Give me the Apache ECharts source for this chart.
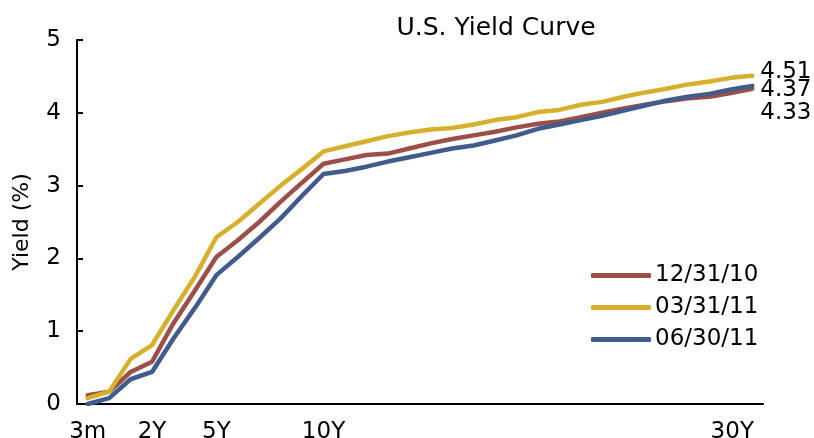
<!DOCTYPE html>
<html>
<head>
<meta charset="utf-8">
<script src="https://cdn.jsdelivr.net/npm/echarts@6/dist/echarts.min.js"></script>
<style>html,body{margin:0;padding:0;background:#fff}#c{width:814px;height:438px}</style>
</head>
<body>
<div id="c"></div>
<script>
var categories = ['3m','6m','1Y','2Y','3Y','4Y','5Y','6Y','7Y','8Y','9Y','10Y','11Y','12Y','13Y','14Y','15Y','16Y','17Y','18Y','19Y','20Y','21Y','22Y','23Y','24Y','25Y','26Y','27Y','28Y','29Y','30Y'];
var shownLabels = ['3m','2Y','5Y','10Y','30Y'];
var seriesNames = ['12/31/10','03/31/11','06/30/11'];
var yield_123110 = [0.12,0.17,0.44,0.58,1.11,1.56,2.02,2.25,2.50,2.78,3.04,3.30,3.36,3.42,3.44,3.51,3.58,3.64,3.69,3.74,3.80,3.85,3.88,3.94,4.00,4.06,4.11,4.16,4.20,4.22,4.27,4.33];
var yield_033111 = [0.08,0.17,0.62,0.81,1.29,1.75,2.29,2.50,2.75,3.00,3.23,3.47,3.54,3.61,3.68,3.73,3.77,3.79,3.84,3.90,3.94,4.01,4.04,4.11,4.15,4.22,4.28,4.33,4.39,4.43,4.48,4.51];
var yield_063011 = [0.00,0.08,0.34,0.44,0.90,1.32,1.77,2.02,2.28,2.55,2.86,3.16,3.20,3.26,3.33,3.39,3.45,3.51,3.55,3.62,3.69,3.78,3.84,3.90,3.96,4.03,4.10,4.17,4.22,4.26,4.32,4.37];
var colors = ['#9c4f49','#d6b02c','#405b8c'];
var endOffsets = [[0, 24], [0, -4], [0, 4]];

var FONT = 'DejaVu Sans';
var allData = [yield_123110, yield_033111, yield_063011];
var series = seriesNames.map(function (n, k) {
  var arr = allData[k];
  return {
    name: n, type: 'line', data: arr,
    symbol: 'none', smooth: false,
    lineStyle: { color: colors[k], width: 4.5, cap: 'round', join: 'round' },
    itemStyle: { color: colors[k] },
    endLabel: {
      show: true, distance: 8, offset: endOffsets[k],
      formatter: function () { return arr[arr.length - 1].toFixed(2); },
      color: '#000', fontFamily: FONT, fontSize: 23
    },
    z: 2 + k
  };
});

var chart = echarts.init(document.getElementById('c'), null, { renderer: 'canvas' });
chart.setOption({
  animation: false,
  backgroundColor: '#fff',
  title: {
    text: 'U.S. Yield Curve', left: 491, textAlign: 'center', top: 11,
    textStyle: { fontFamily: FONT, fontSize: 25, fontWeight: 'normal', color: '#000' }
  },
  legend: {
    orient: 'vertical', left: 586, top: 259,
    icon: 'roundRect', itemWidth: 60, itemHeight: 5, itemGap: 9,
    textStyle: { fontFamily: FONT, fontSize: 23, color: '#000', padding: [0, 0, 0, -1] },
    data: seriesNames
  },
  grid: { left: 77, right: 51, top: 40, bottom: 34, containLabel: false, outerBoundsMode: 'none' },
  xAxis: {
    type: 'category', data: categories, boundaryGap: true,
    axisLine: { lineStyle: { color: '#000', width: 2 } },
    axisTick: { show: false },
    axisLabel: {
      interval: function (i, v) { return shownLabels.indexOf(v) >= 0; },
      margin: 17, color: '#000', fontFamily: FONT, fontSize: 23,
      formatter: function (v) { return v === '30Y' ? '{s|' + v + '}' : v; },
      rich: { s: { padding: [0, 40, 0, 0], fontFamily: FONT, fontSize: 23, color: '#000' } }
    },
    splitLine: { show: false }
  },
  yAxis: {
    type: 'value', min: 0, max: 5, interval: 1,
    name: 'Yield (%)', nameLocation: 'middle', nameGap: 44,
    nameTextStyle: { fontFamily: FONT, fontSize: 22, color: '#000' },
    axisLine: { show: true, lineStyle: { color: '#000', width: 2 } },
    axisTick: { show: true, inside: true, length: 6, lineStyle: { color: '#000', width: 2 } },
    axisLabel: { margin: 16, color: '#000', fontFamily: FONT, fontSize: 23 },
    splitLine: { show: false }
  },
  series: series
});
</script>
</body>
</html>
